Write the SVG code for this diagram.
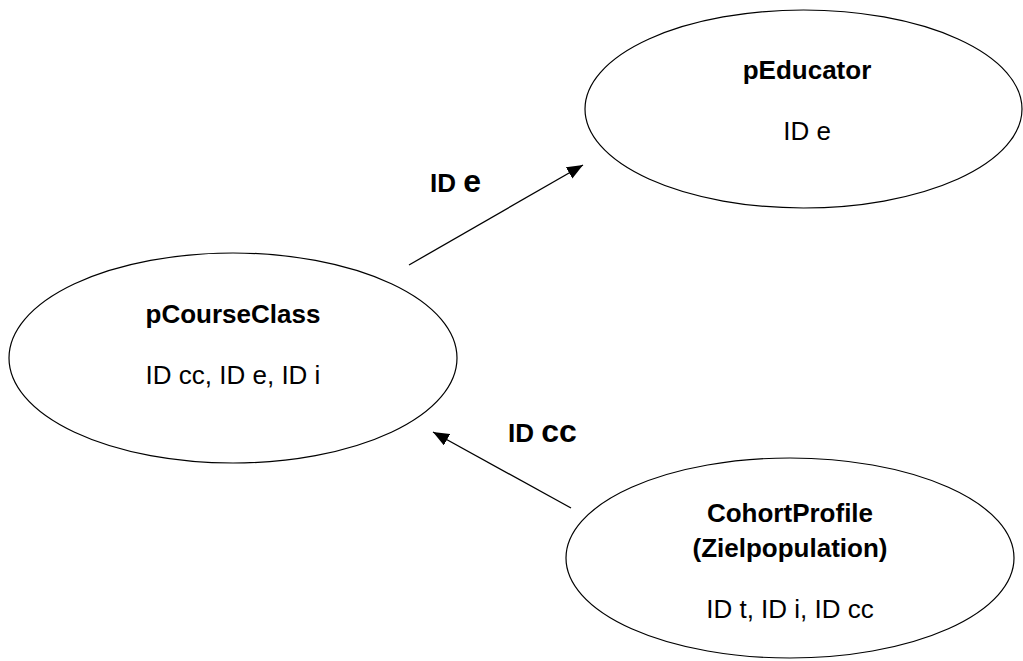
<svg xmlns="http://www.w3.org/2000/svg" width="1023" height="661" viewBox="0 0 1023 661">
<style>
.node ellipse{fill:#fff;stroke:#000;stroke-width:1.2}
text{font-family:"Liberation Sans",Arial,sans-serif;fill:#000;text-anchor:middle}
.t{font-weight:bold;font-size:26px}
.a{font-size:26px}
.lbl{font-weight:bold;font-size:26px;text-anchor:start}
.big{font-size:32px}
.conn line{stroke:#000;stroke-width:1.3}
</style>
<defs>
<marker id="arr" markerUnits="userSpaceOnUse" markerWidth="18" markerHeight="14" refX="16" refY="6.5" orient="auto">
<path d="M0,0 L16,6.5 L0,13 z" fill="#000"/>
</marker>
</defs>
<rect width="1023" height="661" fill="#fff"/>
<g id="pEducator" class="node">
<ellipse cx="803.5" cy="109" rx="218.5" ry="99"/>
<text class="t" x="807" y="79">pEducator</text>
<text class="a" x="807" y="140">ID e</text>
</g>
<g id="pCourseClass" class="node">
<ellipse cx="233" cy="358" rx="224" ry="105"/>
<text class="t" x="233" y="323">pCourseClass</text>
<text class="a" x="233" y="384">ID cc, ID e, ID i</text>
</g>
<g id="CohortProfile" class="node">
<ellipse cx="790" cy="558" rx="224" ry="100"/>
<text class="t" x="790" y="522">CohortProfile</text>
<text class="t" x="790" y="557">(Zielpopulation)</text>
<text class="a" x="790" y="618">ID t, ID i, ID cc</text>
</g>
<g id="connectors" class="conn">
<line x1="409" y1="265" x2="583" y2="165" marker-end="url(#arr)"/>
<text class="lbl" x="430" y="192">ID <tspan class="big">e</tspan></text>
<line x1="571" y1="508" x2="433" y2="432" marker-end="url(#arr)"/>
<text class="lbl" x="508" y="442">ID <tspan class="big">cc</tspan></text>
</g>
</svg>
